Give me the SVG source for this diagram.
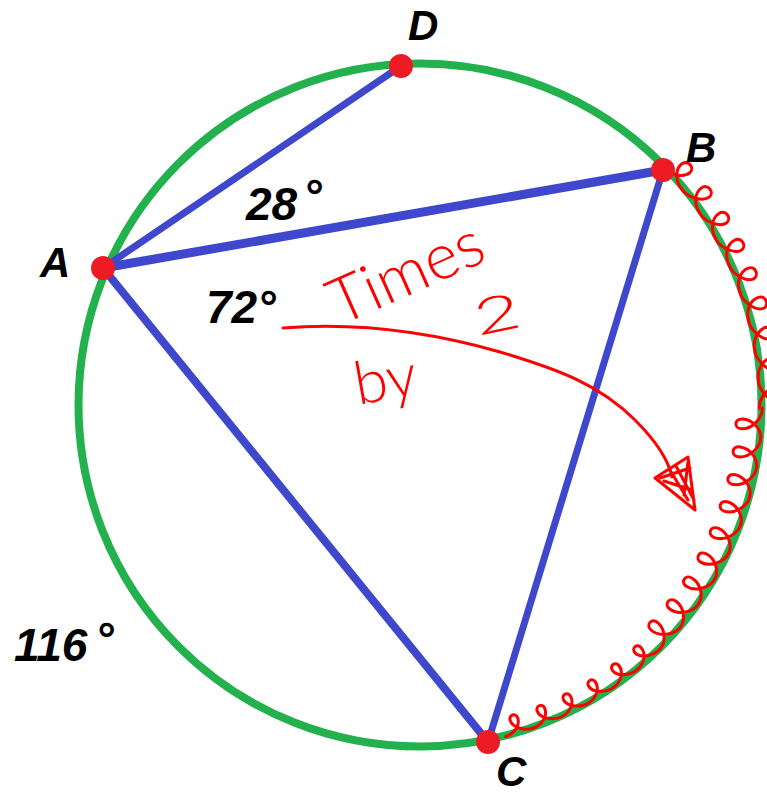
<svg xmlns="http://www.w3.org/2000/svg" xmlns:xlink="http://www.w3.org/1999/xlink" width="767" height="794" viewBox="0 0 767 794">
<style>
.lbl{font-family:"Liberation Sans",Arial,sans-serif;font-weight:bold;font-style:italic;font-size:42px;fill:#000}
.num{font-family:"Liberation Sans",Arial,sans-serif;font-weight:bold;font-style:italic;font-size:46px;fill:#000}
.hand{font-family:Lato,"Liberation Sans",sans-serif;font-weight:300;fill:#ff0000}
.edge{stroke:#3f48cc;stroke-linecap:round;fill:none}
.dot{fill:#ed1c24}
.red{stroke:#ff0000;stroke-width:3;fill:none;stroke-linecap:round;stroke-linejoin:round}
</style>
<defs>
<path id="loopOut" class="red" d="M-15,-339 C-5,-338 8,-348 8,-356 C8,-363 -4,-364 -4,-355 C-4,-346 6,-339 15,-339"/>
<path id="loopIn" class="red" d="M-15,-342 C-5,-343 7,-333 7,-322 C7,-315 -3,-314 -3,-323 C-3,-333 6,-342 15,-342"/>
<path id="loopSmall" class="red" d="M-15,-342 C-6,-343 6,-336 6,-328 C6,-322 -2,-322 -2,-328 C-2,-336 6,-342 15,-342"/>
</defs>
<rect width="767" height="794" fill="#fff"/>
<g id="circle">
<circle cx="420" cy="405" r="341.5" fill="none" stroke="#22b14c" stroke-width="8"/>
</g>
<g id="connectors">
<line class="edge" x1="103" y1="268" x2="401" y2="66" stroke-width="7"/>
<line class="edge" x1="103" y1="268" x2="663" y2="170" stroke-width="9"/>
<line class="edge" x1="103" y1="268" x2="488" y2="742" stroke-width="8"/>
<line class="edge" x1="663" y1="170" x2="488" y2="742" stroke-width="7"/>
</g>
<g id="scribble">
<use xlink:href="#loopOut" href="#loopOut" transform="translate(420 405) rotate(48)"/>
<use xlink:href="#loopOut" href="#loopOut" transform="translate(420 405) rotate(53)"/>
<use xlink:href="#loopOut" href="#loopOut" transform="translate(420 405) rotate(58)"/>
<use xlink:href="#loopOut" href="#loopOut" transform="translate(420 405) rotate(63)"/>
<use xlink:href="#loopOut" href="#loopOut" transform="translate(420 405) rotate(68)"/>
<use xlink:href="#loopOut" href="#loopOut" transform="translate(420 405) rotate(73)"/>
<use xlink:href="#loopOut" href="#loopOut" transform="translate(420 405) rotate(78)"/>
<use xlink:href="#loopOut" href="#loopOut" transform="translate(420 405) rotate(83)"/>
<use xlink:href="#loopOut" href="#loopOut" transform="translate(420 405) rotate(88)"/>
<use xlink:href="#loopIn" href="#loopIn" transform="translate(420 405) rotate(93)"/>
<use xlink:href="#loopIn" href="#loopIn" transform="translate(420 405) rotate(98)"/>
<use xlink:href="#loopIn" href="#loopIn" transform="translate(420 405) rotate(103)"/>
<use xlink:href="#loopIn" href="#loopIn" transform="translate(420 405) rotate(108)"/>
<use xlink:href="#loopIn" href="#loopIn" transform="translate(420 405) rotate(113)"/>
<use xlink:href="#loopIn" href="#loopIn" transform="translate(420 405) rotate(118)"/>
<use xlink:href="#loopIn" href="#loopIn" transform="translate(420 405) rotate(123)"/>
<use xlink:href="#loopIn" href="#loopIn" transform="translate(420 405) rotate(128)"/>
<use xlink:href="#loopIn" href="#loopIn" transform="translate(420 405) rotate(133)"/>
<use xlink:href="#loopSmall" href="#loopSmall" transform="translate(420 405) rotate(138)"/>
<use xlink:href="#loopSmall" href="#loopSmall" transform="translate(420 405) rotate(143)"/>
<use xlink:href="#loopSmall" href="#loopSmall" transform="translate(420 405) rotate(148)"/>
<use xlink:href="#loopSmall" href="#loopSmall" transform="translate(420 405) rotate(153)"/>
<use xlink:href="#loopSmall" href="#loopSmall" transform="translate(420 405) rotate(158)"/>
<use xlink:href="#loopSmall" href="#loopSmall" transform="translate(420 405) rotate(163)"/>
</g>
<g id="arrow">
<path class="red" d="M283,328 C360,322 430,332 500,352 C560,370 600,385 635,420 C655,440 668,458 672,477"/>
<path class="red" d="M655,478 L688,457 L695,510 Z M660,478 L690,468 M664,481 L692,490 M670,470 L688,500 M688,462 L684,495 M676,466 L694,500"/>
</g>
<g id="node-D"><circle class="dot" cx="401" cy="66" r="12"/><text class="lbl" x="408" y="40">D</text></g>
<g id="node-B"><circle class="dot" cx="663" cy="170" r="12"/><text class="lbl" x="686" y="162">B</text></g>
<g id="node-A"><circle class="dot" cx="103" cy="268" r="12"/><text class="lbl" x="40" y="277">A</text></g>
<g id="node-C"><circle class="dot" cx="488" cy="742" r="12"/><text class="lbl" x="496" y="786">C</text></g>
<g id="labels">
<text class="num" x="246" y="220">28<tspan dx="6" dy="-8">°</tspan></text>
<text class="num" x="206" y="323">72°</text>
<text class="num" x="14" y="661">116<tspan dx="8" dy="-6">°</tspan></text>
<text class="hand" font-size="64" x="340" y="326" transform="rotate(-24 340 326)">Times</text>
<text class="hand" font-size="60" x="358" y="405" transform="rotate(-10 358 405)">by</text>
<text class="hand" font-size="50" x="0" y="0" transform="translate(478 336) rotate(-12) scale(1.6 1)">2</text>
</g>
</svg>
